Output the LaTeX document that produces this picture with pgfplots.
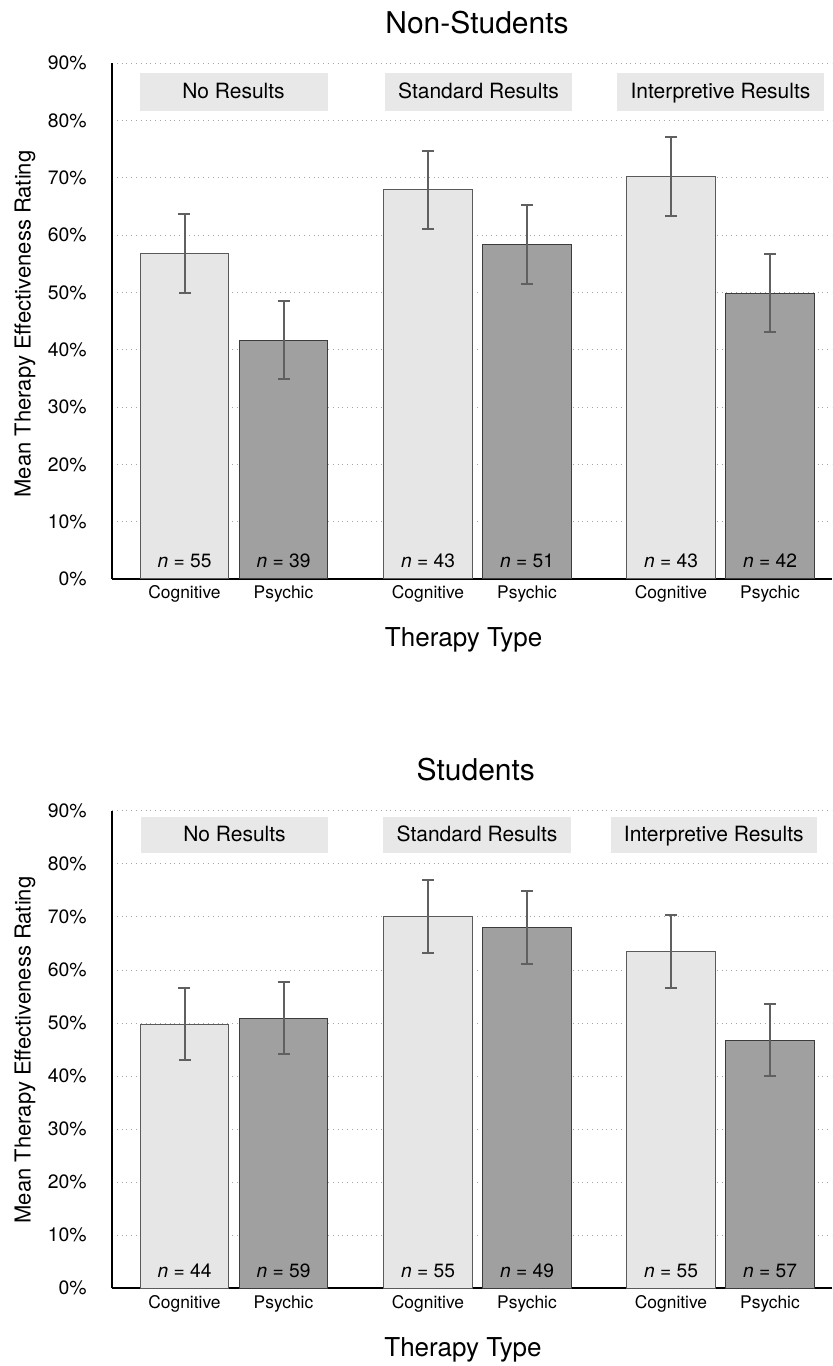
\documentclass[border=0pt]{standalone}
\usepackage{pgfplots}
\pgfplotsset{compat=1.18}
\usepackage{fontspec}
\setmainfont{TeX Gyre Heros}
\definecolor{cogfill}{HTML}{E6E6E6}
\definecolor{cogdraw}{HTML}{5A5A5A}
\definecolor{psyfill}{HTML}{A0A0A0}
\definecolor{psydraw}{HTML}{3C3C3C}
\definecolor{errc}{HTML}{606060}
\definecolor{boxc}{HTML}{E8E8E8}
\pgfplotsset{
  panel/.style={
    scale only axis, width=360pt, anchor=south west,
    xmin=1.12, xmax=8.32, ymin=0, ymax=90,
    ytick={0,10,...,90},
    yticklabel={\pgfmathprintnumber{\tick}\%},
    /pgf/number format/assume math mode=true,
    xtick={1.845,2.835,4.28,5.27,6.71,7.70},
    xticklabels={Cognitive,Psychic,Cognitive,Psychic,Cognitive,Psychic},
    major tick length=0pt,
    axis x line*=bottom, axis y line*=left,
    axis line style={-, line width=0.9pt, black},
    ymajorgrids, grid style={dotted, line width=0.4pt, black!35},
    yticklabel style={inner sep=0pt, xshift=-12.5pt, font=\fontsize{9.7}{11}\selectfont},
    xticklabel style={inner sep=0pt, anchor=base, yshift=-10pt, font=\fontsize{8.7}{10}\selectfont},
    ybar, bar width=0.887, bar shift=0pt,
    clip=false,
  },
  cog/.style={fill=cogfill, draw=cogdraw, line width=0.5pt,
    error bars/.cd, y dir=both, y explicit,
    error bar style={line width=1pt, errc},
    error mark options={rotate=90, mark size=3pt, line width=1pt, errc}},
  psy/.style={fill=psyfill, draw=psydraw, line width=0.5pt,
    error bars/.cd, y dir=both, y explicit,
    error bar style={line width=1pt, errc},
    error mark options={rotate=90, mark size=3pt, line width=1pt, errc}},
}
\tikzset{
  nlab/.style={anchor=base, yshift=5.6pt, font=\fontsize{9.6}{11}\selectfont},
  boxlab/.style={anchor=base, inner sep=0pt, font=\fontsize{10.5}{12}\selectfont},
}
\begin{document}
\begin{tikzpicture}
\useasboundingbox (0,0) rectangle (416pt,683pt);
% ---------- Non-Students ----------
\begin{axis}[panel, at={(56pt,393.5pt)}, height=257.85pt]
\fill[boxc] (axis cs:1.40,81.7) rectangle (axis cs:3.28,88.3);
\fill[boxc] (axis cs:3.85,81.7) rectangle (axis cs:5.72,88.3);
\fill[boxc] (axis cs:6.17,81.7) rectangle (axis cs:8.24,88.3);
\node[boxlab] at (axis cs:2.335,83.8) {No Results};
\node[boxlab] at (axis cs:4.785,83.8) {Standard Results};
\node[boxlab] at (axis cs:7.205,83.8) {Interpretive Results};
\addplot[cog] coordinates {(1.845,56.8) +- (0,6.9) (4.28,67.9) +- (0,6.85) (6.71,70.2) +- (0,6.85)};
\addplot[psy] coordinates {(2.835,41.7) +- (0,6.85) (5.27,58.3) +- (0,6.9) (7.70,49.9) +- (0,6.85)};
\node[nlab] at (axis cs:1.845,0) {\textit{n} = 55};
\node[nlab] at (axis cs:2.835,0) {\textit{n} = 39};
\node[nlab] at (axis cs:4.28,0) {\textit{n} = 43};
\node[nlab] at (axis cs:5.27,0) {\textit{n} = 51};
\node[nlab] at (axis cs:6.71,0) {\textit{n} = 43};
\node[nlab] at (axis cs:7.70,0) {\textit{n} = 42};
\end{axis}
% ---------- Students ----------
\begin{axis}[panel, at={(56pt,38.85pt)}, height=238.8pt]
\fill[boxc] (axis cs:1.41,82.0) rectangle (axis cs:3.28,88.9);
\fill[boxc] (axis cs:3.83,82.0) rectangle (axis cs:5.71,88.9);
\fill[boxc] (axis cs:6.107,82.0) rectangle (axis cs:8.17,88.9);
\node[boxlab] at (axis cs:2.345,84.15) {No Results};
\node[boxlab] at (axis cs:4.77,84.15) {Standard Results};
\node[boxlab] at (axis cs:7.138,84.15) {Interpretive Results};
\addplot[cog] coordinates {(1.845,49.8) +- (0,6.8) (4.28,70.05) +- (0,6.85) (6.71,63.45) +- (0,6.85)};
\addplot[psy] coordinates {(2.835,50.9) +- (0,6.8) (5.27,68.05) +- (0,6.85) (7.70,46.75) +- (0,6.8)};
\node[nlab] at (axis cs:1.845,0) {\textit{n} = 44};
\node[nlab] at (axis cs:2.835,0) {\textit{n} = 59};
\node[nlab] at (axis cs:4.28,0) {\textit{n} = 55};
\node[nlab] at (axis cs:5.27,0) {\textit{n} = 49};
\node[nlab] at (axis cs:6.71,0) {\textit{n} = 55};
\node[nlab] at (axis cs:7.70,0) {\textit{n} = 57};
\end{axis}
% ---------- titles and labels ----------
\node[anchor=base, font=\fontsize{15}{18}\selectfont] at (238.5pt,666.35pt) {Non-Students};
\node[anchor=base, font=\fontsize{13}{15}\selectfont] at (231.8pt,359.65pt) {Therapy Type};
\node[rotate=90, font=\fontsize{11}{13}\selectfont] at (12.5pt,521pt) {Mean Therapy Effectiveness Rating};
\node[anchor=base, font=\fontsize{15}{18}\selectfont] at (237.9pt,292.5pt) {Students};
\node[anchor=base, font=\fontsize{13}{15}\selectfont] at (231.5pt,4.65pt) {Therapy Type};
\node[rotate=90, font=\fontsize{11}{13}\selectfont] at (12.5pt,158pt) {Mean Therapy Effectiveness Rating};
\end{tikzpicture}
\end{document}
